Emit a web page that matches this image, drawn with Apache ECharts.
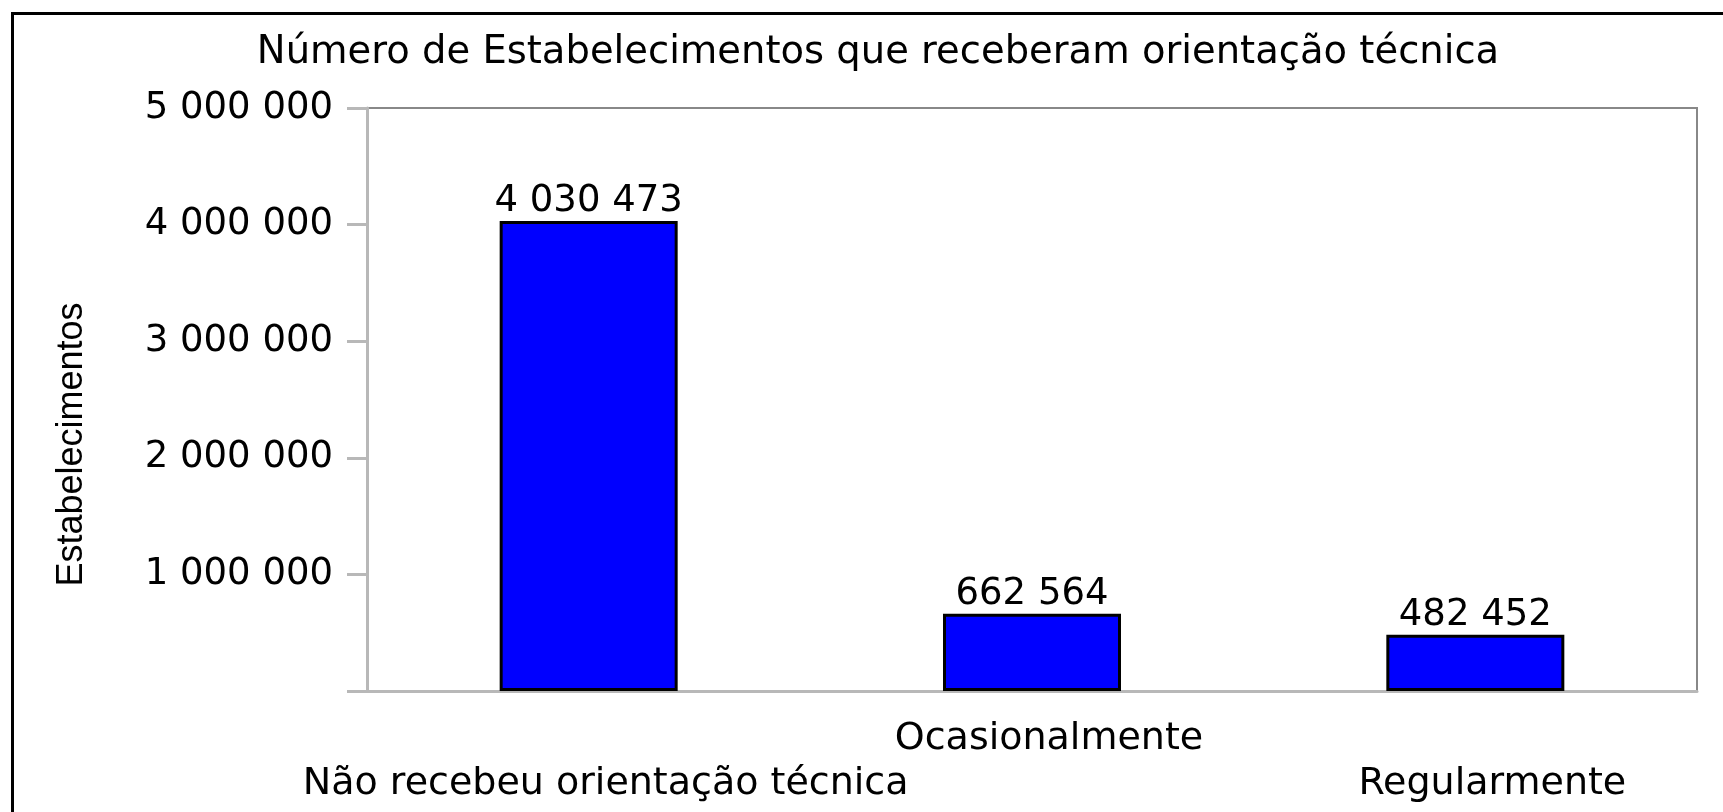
<!DOCTYPE html>
<html>
<head>
<meta charset="utf-8">
<title>Orientação técnica</title>
<script src="https://cdn.jsdelivr.net/npm/echarts@6/dist/echarts.min.js"></script>
<style>
  html, body { margin: 0; padding: 0; background: #fff; }
  #chart { width: 1723px; height: 812px; }
</style>
</head>
<body>
<div id="chart"></div>
<script>
  // dados
  var categorias = ['Não recebeu orientação técnica', 'Ocasionalmente', 'Regularmente'];
  var estabelecimentos = [4030473, 662564, 482452];
  var eixoY = { min: 0, max: 5000000, intervalo: 1000000 };

  // 4030473 -> "4 030 473"
  function separa(n) {
    return String(n).replace(/\B(?=(\d{3})+(?!\d))/g, ' ');
  }

  var chart = echarts.init(document.getElementById('chart'), null, { renderer: 'canvas' });
  var fonte = 'DejaVu Sans';

  var option = {
    backgroundColor: '#fff',
    animation: false,
    title: {
      text: 'Número de Estabelecimentos que receberam orientação técnica',
      left: 873,
      top: 28,
      textAlign: 'center',
      textStyle: { fontFamily: fonte, fontSize: 38.5, fontWeight: 'normal', color: '#000' }
    },
    graphic: [
      {
        // moldura preta (cortada à direita e em baixo)
        type: 'rect',
        left: 10,
        top: 11,
        shape: { width: 1800, height: 900 },
        style: { fill: null, stroke: '#000', lineWidth: 3 },
        silent: true
      }
    ],
    grid: {
      left: 367,
      right: 26,
      top: 108,
      bottom: 121,
      show: true,
      borderColor: '#888',
      borderWidth: 2
    },
    xAxis: {
      type: 'category',
      data: categorias,
      axisLine: { lineStyle: { color: '#b8b8b8', width: 3 } },
      axisTick: { alignWithLabel: true, length: 13, lineStyle: { color: '#b8b8b8', width: 3 } },
      axisLabel: {
        interval: 0,
        margin: 26,
        fontFamily: fonte,
        fontSize: 38,
        color: '#000',
        lineHeight: 45,
        padding: [0, 0, 0, 34],
        formatter: function (v, i) {
          return i % 2 ? v : '\n' + v;
        }
      }
    },
    yAxis: {
      type: 'value',
      min: eixoY.min,
      max: eixoY.max,
      interval: eixoY.intervalo,
      name: 'Estabelecimentos',
      nameLocation: 'middle',
      nameRotate: 90,
      nameGap: 277,
      nameTextStyle: { fontFamily: 'Liberation Sans', fontSize: 36, color: '#000', padding: [0, 90, 0, 0] },
      splitLine: { show: false },
      axisLine: { show: true, lineStyle: { color: '#b8b8b8', width: 3 } },
      axisTick: { show: true, length: 20, lineStyle: { color: '#b8b8b8', width: 3 } },
      axisLabel: {
        margin: 34,
        fontFamily: fonte,
        fontSize: 37,
        color: '#000',
        formatter: function (v) {
          return v === 0 ? '' : separa(v);
        }
      }
    },
    series: [
      {
        type: 'bar',
        data: estabelecimentos,
        barWidth: 178,
        itemStyle: { color: '#0000ff', borderColor: '#000', borderWidth: 3 },
        label: {
          show: true,
          position: 'top',
          distance: 1,
          fontFamily: fonte,
          fontSize: 37,
          color: '#000',
          formatter: function (p) { return separa(p.value); }
        }
      }
    ]
  };

  chart.setOption(option);
</script>
</body>
</html>
